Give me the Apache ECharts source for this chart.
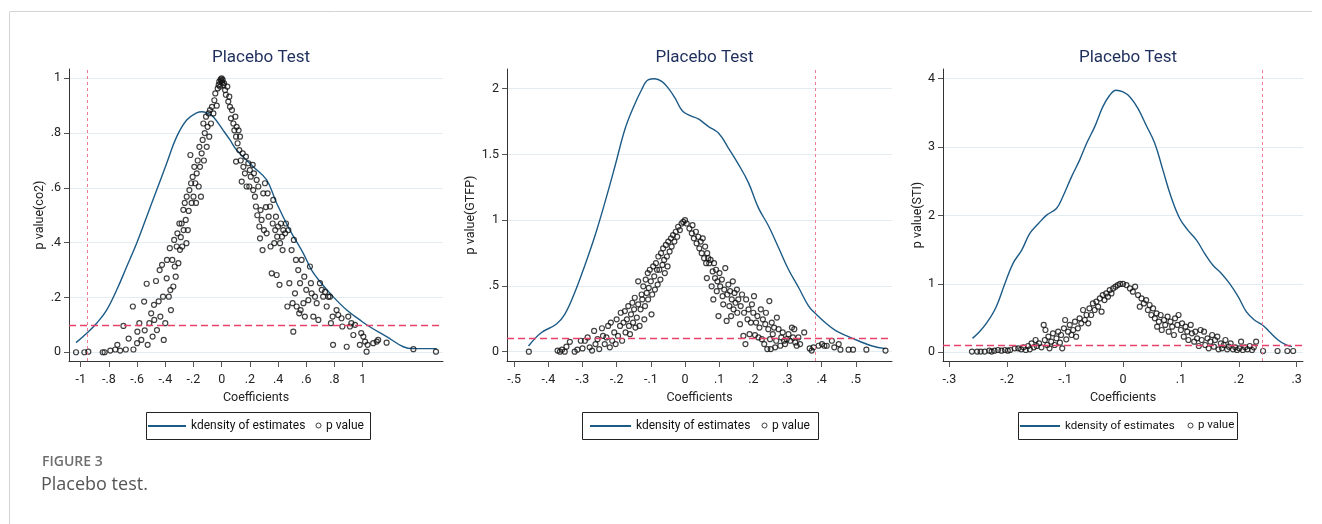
<!DOCTYPE html>
<html>
<head>
<meta charset="utf-8">
<script src="https://cdn.jsdelivr.net/npm/echarts@6/dist/echarts.min.js"></script>
<style>
html, body { margin: 0; padding: 0; background: #fff; }
#main { width: 1322px; height: 524px; }
</style>
</head>
<body>
<div id="main"></div>
<script>
// ---- data ----
var co2Density = [[-1.033,0.035],[-0.957,0.069],[-0.887,0.106],[-0.816,0.154],[-0.745,0.227],[-0.674,0.312],[-0.603,0.398],[-0.532,0.495],[-0.461,0.592],[-0.39,0.69],[-0.319,0.787],[-0.248,0.848],[-0.177,0.874],[-0.14,0.878],[-0.1,0.872],[-0.06,0.86],[0.011,0.81],[0.059,0.775],[0.106,0.738],[0.224,0.677],[0.319,0.629],[0.39,0.544],[0.484,0.446],[0.579,0.361],[0.638,0.3],[0.697,0.258],[0.79,0.203],[0.887,0.154],[0.98,0.118],[1.05,0.093],[1.17,0.057],[1.288,0.02],[1.36,0.013],[1.525,0.013]];
var co2Pvalues = [[-1.033,0],[-0.974,0],[-0.946,0.002],[-0.844,0],[-0.83,0],[-0.79,0.006],[-0.755,0.01],[-0.74,0.027],[-0.72,0.006],[-0.697,0.096],[-0.68,0.01],[-0.66,0.05],[-0.63,0.167],[-0.626,0.01],[-0.6,0.033],[-0.598,0.075],[-0.584,0.106],[-0.57,0.045],[-0.55,0.185],[-0.546,0.08],[-0.532,0.25],[-0.525,0.027],[-0.513,0.106],[-0.5,0.142],[-0.49,0.057],[-0.48,0.173],[-0.478,0.118],[-0.466,0.26],[-0.459,0.081],[-0.447,0.186],[-0.44,0.3],[-0.435,0.13],[-0.423,0.319],[-0.416,0.203],[-0.411,0.045],[-0.4,0.106],[-0.39,0.27],[-0.388,0.337],[-0.375,0.203],[-0.368,0.38],[-0.364,0.227],[-0.36,0.154],[-0.35,0.337],[-0.343,0.24],[-0.337,0.41],[-0.333,0.313],[-0.326,0.276],[-0.319,0.386],[-0.314,0.434],[-0.307,0.325],[-0.3,0.47],[-0.296,0.374],[-0.29,0.42],[-0.284,0.47],[-0.28,0.386],[-0.272,0.52],[-0.27,0.446],[-0.262,0.545],[-0.255,0.483],[-0.25,0.398],[-0.248,0.568],[-0.24,0.446],[-0.234,0.516],[-0.229,0.592],[-0.222,0.72],[-0.217,0.617],[-0.213,0.545],[-0.206,0.64],[-0.2,0.568],[-0.194,0.677],[-0.187,0.617],[-0.182,0.545],[-0.177,0.653],[-0.17,0.7],[-0.163,0.605],[-0.158,0.75],[-0.154,0.677],[-0.147,0.568],[-0.142,0.726],[-0.135,0.775],[-0.13,0.835],[-0.126,0.7],[-0.12,0.8],[-0.111,0.86],[-0.106,0.75],[-0.1,0.823],[-0.092,0.872],[-0.088,0.787],[-0.083,0.884],[-0.076,0.835],[-0.069,0.896],[-0.059,0.872],[-0.052,0.92],[-0.045,0.945],[-0.035,0.9],[-0.028,0.963],[-0.021,0.976],[-0.017,0.988],[-0.012,0.97],[-0.007,0.996],[-0.003,0.99],[0,1],[0.004,0.985],[0.007,0.994],[0.012,0.975],
  [0.017,0.982],[0.024,0.957],[0.03,0.94],[0.04,0.97],[0.047,0.915],[0.054,0.933],[0.059,0.896],[0.066,0.854],[0.073,0.884],[0.083,0.835],[0.09,0.81],[0.097,0.86],[0.102,0.787],[0.106,0.823],[0.113,0.763],[0.12,0.81],[0.125,0.738],[0.13,0.787],[0.102,0.696],[0.135,0.7],[0.142,0.623],[0.149,0.726],[0.154,0.677],[0.165,0.653],[0.172,0.714],[0.177,0.605],[0.189,0.69],[0.196,0.605],[0.2,0.665],[0.206,0.641],[0.22,0.684],[0.224,0.592],[0.229,0.653],[0.236,0.568],[0.243,0.532],[0.248,0.629],[0.253,0.5],[0.26,0.605],[0.267,0.459],[0.272,0.416],[0.276,0.519],[0.283,0.483],[0.29,0.373],[0.295,0.58],[0.3,0.446],[0.307,0.617],[0.314,0.53],[0.319,0.434],[0.326,0.58],[0.333,0.495],[0.343,0.532],[0.347,0.386],[0.355,0.288],[0.362,0.47],[0.366,0.556],[0.373,0.398],[0.38,0.446],[0.385,0.495],[0.39,0.282],[0.394,0.422],[0.4,0.459],[0.41,0.246],[0.414,0.398],[0.42,0.47],[0.428,0.422],[0.432,0.373],[0.437,0.446],[0.45,0.434],[0.456,0.47],[0.466,0.167],[0.473,0.446],[0.48,0.252],[0.496,0.373],[0.503,0.179],[0.508,0.075],[0.512,0.41],[0.52,0.215],[0.527,0.337],[0.532,0.167],[0.543,0.3],[0.55,0.142],[0.556,0.252],[0.56,0.154],[0.567,0.337],[0.58,0.179],[0.586,0.276],[0.59,0.13],[0.6,0.228],[0.615,0.19],[0.626,0.313],[0.633,0.252],[0.638,0.215],[0.65,0.13],[0.662,0.203],[0.674,0.179],[0.686,0.118],[0.697,0.252],[0.71,0.228],[0.72,0.203],[0.733,0.22],[0.745,0.167],[0.757,0.203],[0.768,0.203],[0.775,0.106],[0.787,0.13],[0.79,0.027],[0.815,0.154],[0.827,0.136],[0.85,0.124],[0.856,0.094],[0.887,0.02],[0.898,0.13],[0.91,0.094],[0.92,0.106],[0.934,0.063],[0.946,0.1],[0.98,0.027],[0.99,0.07],[1.005,0.057],[1.017,0.039],[1.028,0.002],[1.035,0.027],[1.075,0.033],[1.1,0.039],[1.11,0.045],[1.17,0.035],[1.36,0.011],[1.52,0.002]];

var gtfpDensity = [[-0.458,0.043],[-0.421,0.144],[-0.377,0.208],[-0.352,0.284],[-0.323,0.448],[-0.294,0.65],[-0.264,0.878],[-0.235,1.13],[-0.205,1.41],[-0.176,1.69],[-0.152,1.853],[-0.127,1.992],[-0.108,2.068],[-0.088,2.076],[-0.068,2.056],[-0.049,2.005],[-0.029,1.929],[-0.008,1.833],[0.015,1.795],[0.039,1.77],[0.068,1.714],[0.098,1.663],[0.127,1.549],[0.157,1.423],[0.186,1.284],[0.215,1.094],[0.245,0.954],[0.274,0.79],[0.303,0.625],[0.333,0.486],[0.362,0.347],[0.384,0.284],[0.411,0.22],[0.44,0.162],[0.47,0.124],[0.509,0.081],[0.548,0.043],[0.587,0.023]];
var gtfpPvalues = [[-0.457,0],[-0.373,0.008],[-0.366,0],[-0.36,0.015],[-0.352,0],[-0.347,0.038],[-0.337,0.075],[-0.323,0],[-0.315,0.015],[-0.305,0.083],[-0.3,0.025],[-0.293,0.083],[-0.285,0.108],[-0.279,0.033],[-0.272,0.008],[-0.266,0.158],[-0.262,0.058],[-0.256,0.095],[-0.251,0.02],[-0.243,0.178],[-0.24,0.12],[-0.235,0.058],[-0.23,0.108],[-0.225,0.196],[-0.22,0.033],[-0.217,0.221],[-0.213,0.083],[-0.207,0.146],[-0.203,0.058],[-0.2,0.246],[-0.196,0.12],[-0.19,0.196],[-0.188,0.296],[-0.184,0.083],[-0.18,0.221],[-0.176,0.309],[-0.174,0.146],[-0.17,0.246],[-0.166,0.347],[-0.164,0.196],[-0.161,0.133],[-0.158,0.284],[-0.154,0.372],[-0.152,0.221],[-0.149,0.322],[-0.147,0.41],[-0.145,0.183],[-0.141,0.259],[-0.137,0.36],[-0.137,0.535],[-0.133,0.196],[-0.13,0.322],[-0.127,0.435],[-0.125,0.397],[-0.122,0.497],[-0.119,0.246],[-0.117,0.347],[-0.115,0.548],[-0.112,0.447],[-0.109,0.598],[-0.108,0.397],[-0.106,0.485],[-0.103,0.623],[-0.1,0.535],[-0.098,0.284],[-0.096,0.435],[-0.093,0.648],[-0.09,0.573],[-0.088,0.472],[-0.085,0.673],[-0.082,0.623],[-0.08,0.51],[-0.078,0.724],[-0.075,0.623],[-0.072,0.548],[-0.07,0.749],[-0.066,0.66],[-0.064,0.786],[-0.061,0.698],[-0.059,0.598],[-0.056,0.812],[-0.053,0.724],[-0.051,0.648],[-0.049,0.837],[-0.045,0.761],[-0.041,0.862],[-0.039,0.799],[-0.035,0.887],[-0.031,0.837],[-0.027,0.912],[-0.023,0.874],[-0.02,0.95],[-0.015,0.925],[-0.01,0.975],[-0.005,0.987],[0,1],
  [0.005,0.975],[0.013,0.937],[0.02,0.9],[0.022,0.962],[0.026,0.862],[0.032,0.912],[0.034,0.824],[0.039,0.874],[0.042,0.786],[0.046,0.837],[0.049,0.749],[0.052,0.862],[0.056,0.711],[0.059,0.799],[0.062,0.673],[0.064,0.56],[0.065,0.749],[0.068,0.711],[0.071,0.673],[0.075,0.698],[0.078,0.497],[0.081,0.61],[0.083,0.397],[0.085,0.673],[0.088,0.56],[0.091,0.623],[0.093,0.46],[0.095,0.535],[0.098,0.271],[0.101,0.598],[0.103,0.497],[0.108,0.548],[0.11,0.422],[0.112,0.36],[0.115,0.472],[0.118,0.636],[0.122,0.234],[0.124,0.435],[0.127,0.51],[0.13,0.347],[0.132,0.46],[0.135,0.271],[0.137,0.397],[0.14,0.535],[0.142,0.322],[0.145,0.447],[0.148,0.372],[0.152,0.472],[0.153,0.296],[0.156,0.397],[0.161,0.209],[0.163,0.347],[0.167,0.435],[0.171,0.12],[0.173,0.296],[0.177,0.058],[0.179,0.397],[0.183,0.246],[0.186,0.322],[0.189,0.133],[0.193,0.221],[0.196,0.36],[0.2,0.296],[0.202,0.422],[0.205,0.126],[0.208,0.221],[0.212,0.271],[0.215,0.108],[0.218,0.183],[0.222,0.322],[0.225,0.095],[0.228,0.246],[0.232,0.058],[0.235,0.209],[0.237,0.296],[0.241,0.02],[0.244,0.171],[0.247,0.385],[0.249,0.095],[0.251,0.02],[0.254,0.221],[0.257,0.133],[0.261,0.183],[0.264,0.033],[0.267,0.083],[0.269,0.259],[0.274,0.171],[0.279,0.045],[0.282,0.108],[0.286,0.146],[0.29,0.083],[0.293,0.058],[0.298,0.095],[0.303,0.133],[0.308,0.083],[0.313,0.183],[0.316,0.108],[0.32,0.171],[0.323,0.07],[0.327,0.045],[0.332,0.108],[0.337,0.058],[0.349,0.146],[0.365,0.025],[0.371,0.008],[0.376,0.033],[0.391,0.045],[0.401,0.058],[0.408,0.045],[0.415,0.045],[0.43,0.083],[0.437,0.033],[0.45,0.058],[0.455,0.015],[0.479,0.015],[0.492,0.015],[0.531,0.015],[0.587,0.008]];

var stiDensity = [[-0.26,0.204],[-0.248,0.3],[-0.234,0.448],[-0.219,0.667],[-0.204,1.007],[-0.19,1.3],[-0.175,1.494],[-0.161,1.737],[-0.146,1.883],[-0.132,2.005],[-0.115,2.102],[-0.104,2.273],[-0.089,2.564],[-0.075,2.808],[-0.063,3.051],[-0.049,3.294],[-0.035,3.586],[-0.023,3.757],[-0.012,3.83],[0,3.805],[0.012,3.732],[0.026,3.562],[0.04,3.319],[0.055,3.051],[0.069,2.662],[0.083,2.273],[0.098,1.956],[0.112,1.786],[0.127,1.64],[0.141,1.445],[0.155,1.275],[0.17,1.153],[0.184,1.007],[0.199,0.813],[0.213,0.594],[0.227,0.472],[0.241,0.399],[0.253,0.3],[0.268,0.18],[0.282,0.107],[0.292,0.083]];
var stiPvalues = [[-0.261,0.01],[-0.252,0.01],[-0.246,0.01],[-0.239,0.01],[-0.231,0.024],[-0.227,0.01],[-0.222,0.024],[-0.216,0.034],[-0.21,0.024],[-0.204,0.034],[-0.199,0.024],[-0.195,0.034],[-0.187,0.058],[-0.181,0.058],[-0.176,0.044],[-0.172,0.073],[-0.168,0.034],[-0.164,0.092],[-0.161,0.044],[-0.158,0.131],[-0.154,0.073],[-0.151,0.18],[-0.149,0.092],[-0.145,0.131],[-0.141,0.073],[-0.137,0.4],[-0.135,0.18],[-0.134,0.326],[-0.131,0.107],[-0.129,0.229],[-0.127,0.058],[-0.124,0.156],[-0.121,0.277],[-0.118,0.107],[-0.115,0.204],[-0.112,0.302],[-0.109,0.141],[-0.107,0.253],[-0.105,0.058],[-0.102,0.35],[-0.1,0.472],[-0.098,0.19],[-0.095,0.302],[-0.092,0.4],[-0.089,0.253],[-0.086,0.326],[-0.083,0.448],[-0.081,0.229],[-0.078,0.35],[-0.075,0.496],[-0.072,0.423],[-0.069,0.618],[-0.066,0.472],[-0.063,0.545],[-0.06,0.423],[-0.058,0.642],[-0.055,0.545],[-0.052,0.715],[-0.049,0.618],[-0.046,0.74],[-0.043,0.667],[-0.04,0.788],[-0.037,0.594],[-0.035,0.837],[-0.032,0.764],[-0.029,0.861],[-0.026,0.813],[-0.023,0.91],[-0.02,0.861],[-0.017,0.934],[-0.013,0.959],[-0.009,0.983],[-0.005,1],[0,1],
  [0.006,0.983],[0.012,0.934],[0.017,0.886],[0.021,0.959],[0.026,0.837],[0.029,0.667],[0.032,0.788],[0.036,0.715],[0.04,0.764],[0.043,0.618],[0.046,0.691],[0.049,0.545],[0.052,0.642],[0.055,0.496],[0.058,0.569],[0.059,0.375],[0.062,0.448],[0.065,0.545],[0.067,0.326],[0.071,0.472],[0.073,0.4],[0.077,0.521],[0.079,0.302],[0.082,0.448],[0.085,0.375],[0.088,0.253],[0.09,0.496],[0.094,0.4],[0.096,0.545],[0.1,0.326],[0.102,0.423],[0.105,0.229],[0.108,0.375],[0.111,0.302],[0.113,0.18],[0.117,0.4],[0.119,0.277],[0.123,0.156],[0.125,0.302],[0.128,0.204],[0.131,0.092],[0.134,0.326],[0.136,0.18],[0.14,0.302],[0.142,0.107],[0.146,0.204],[0.148,0.058],[0.151,0.156],[0.154,0.253],[0.157,0.083],[0.159,0.18],[0.163,0.229],[0.165,0.044],[0.169,0.131],[0.171,0.058],[0.174,0.107],[0.177,0.18],[0.18,0.044],[0.183,0.083],[0.186,0.131],[0.19,0.044],[0.194,0.073],[0.197,0.034],[0.201,0.058],[0.204,0.156],[0.207,0.034],[0.211,0.073],[0.215,0.044],[0.219,0.092],[0.223,0.034],[0.226,0.073],[0.23,0.156],[0.242,0.019],[0.267,0.019],[0.284,0.019],[0.294,0.019]];

var co2XTicks = [-1, -0.8, -0.6, -0.4, -0.2, 0, 0.2, 0.4, 0.6, 0.8, 1];
var co2YTicks = [0, 0.2, 0.4, 0.6, 0.8, 1];
var gtfpXTicks = [-0.5, -0.4, -0.3, -0.2, -0.1, 0, 0.1, 0.2, 0.3, 0.4, 0.5];
var gtfpYTicks = [0, 0.5, 1, 1.5, 2];
var stiXTicks = [-0.3, -0.2, -0.1, 0, 0.1, 0.2, 0.3];
var stiYTicks = [0, 1, 2, 3, 4];

var pCutoff = 0.1;          // horizontal dashed line
var co2TrueCoef = -0.953;   // vertical dashed lines
var gtfpTrueCoef = 0.382;
var stiTrueCoef = 0.241;

// ---- layout ----
var font = "'Liberation Sans Narrow', 'Arial Narrow', Roboto, sans-serif";
var panels = [
  { yName: 'p value(co2)', density: co2Density, pvals: co2Pvalues, xTicks: co2XTicks, yTicks: co2YTicks,
    xMin: -1.083, xMax: 1.57, yMin: -0.032, yMax: 1.034, refX: co2TrueCoef,
    left: 69, width: 374, nameGap: 17, fs: 12.5, legFs: 12,
    box: [144, 224], lineLeg: 148, lineW: 38, dotLeg: 315.5 },
  { yName: 'p value(GTFP)', density: gtfpDensity, pvals: gtfpPvalues, xTicks: gtfpXTicks, yTicks: gtfpYTicks,
    xMin: -0.521, xMax: 0.606, yMin: -0.071, yMax: 2.15, refX: gtfpTrueCoef,
    left: 507, width: 385, nameGap: 25, fs: 12.5, legFs: 12,
    box: [580, 236], lineLeg: 590, lineW: 41, dotLeg: 761.5 },
  { yName: 'p value(STI)', density: stiDensity, pvals: stiPvalues, xTicks: stiXTicks, yTicks: stiYTicks,
    xMin: -0.311, xMax: 0.311, yMin: -0.127, yMax: 4.14, refX: stiTrueCoef,
    left: 943, width: 360, nameGap: 15, fs: 12.5, legFs: 11.5,
    box: [1016, 219], lineLeg: 1020, lineW: 40, dotLeg: 1187.5 }
];

function stataLabel(v) {
  var s = String(+(+v).toFixed(2));
  return s.replace(/^(-?)0\./, '$1.');
}

var grids = [], xAxes = [], yAxes = [], series = [], titles = [], legends = [], graphics = [];

panels.forEach(function (p, i) {
  grids.push({ left: p.left, top: 69, width: p.width, height: 292 });
  titles.push({
    text: 'Placebo Test', left: p.left + p.width / 2, top: 44, textAlign: 'center',
    textStyle: { fontFamily: font, fontSize: 17, fontWeight: 'normal', color: '#1e2f5c' }
  });
  xAxes.push({
    gridIndex: i, type: 'value', min: p.xMin, max: p.xMax,
    name: 'Coefficients', nameLocation: 'middle', nameGap: 25,
    nameTextStyle: { fontFamily: font, fontSize: p.fs, color: '#222' },
    axisLine: { show: true, onZero: false, lineStyle: { color: '#333', width: 1 } },
    axisTick: { show: true, length: 6, customValues: p.xTicks, lineStyle: { color: '#555' } },
    axisLabel: { customValues: p.xTicks, formatter: stataLabel, margin: 12,
      fontFamily: font, fontSize: p.fs, color: '#222' },
    splitLine: { show: false }
  });
  yAxes.push({
    gridIndex: i, type: 'value', min: p.yMin, max: p.yMax,
    name: p.yName, nameLocation: 'middle', nameGap: p.nameGap,
    nameTextStyle: { fontFamily: font, fontSize: p.fs, color: '#222' },
    axisLine: { show: true, onZero: false, lineStyle: { color: '#333', width: 1 } },
    axisTick: { show: true, length: 5, customValues: p.yTicks, lineStyle: { color: '#555' } },
    axisLabel: { customValues: p.yTicks, formatter: stataLabel, margin: 8,
      fontFamily: font, fontSize: p.fs, color: '#222' },
    splitLine: { show: true, lineStyle: { color: '#e2ecf1', width: 1.2 } }
  });
  series.push({
    name: 'kdensity of estimates', type: 'line', xAxisIndex: i, yAxisIndex: i,
    data: p.density, smooth: 0.4, symbol: 'none', z: 3,
    lineStyle: { color: '#1d5b87', width: 1.4 },
    markLine: {
      silent: true, symbol: 'none', label: { show: false },
      data: [
        { yAxis: pCutoff, lineStyle: { color: '#e8416a', type: [7, 4], width: 1.3 } },
        { xAxis: p.refX, lineStyle: { color: '#f07a94', type: [3, 3], width: 1 } }
      ]
    }
  });
  series.push({
    name: 'p value', type: 'scatter', xAxisIndex: i, yAxisIndex: i,
    data: p.pvals, symbol: 'circle', symbolSize: 5, z: 4,
    itemStyle: { color: 'transparent', borderColor: '#111', borderWidth: 1.2 }
  });
  var legText = { fontFamily: font, fontSize: p.legFs, color: '#111' };
  legends.push({
    left: p.lineLeg, top: 420, padding: 0, itemWidth: p.lineW, itemHeight: 2,
    data: [{ name: 'kdensity of estimates', icon: 'rect', itemStyle: { color: '#1d5b87' } }],
    textStyle: legText, selectedMode: false
  });
  legends.push({
    left: p.dotLeg, top: 419.5, padding: 0, itemWidth: 5, itemHeight: 5,
    data: [{ name: 'p value', icon: 'circle',
      itemStyle: { color: 'transparent', borderColor: '#111', borderWidth: 1 } }],
    textStyle: legText, selectedMode: false
  });
  graphics.push({
    type: 'rect', left: p.box[0], top: 410, silent: true,
    shape: { width: p.box[1], height: 27 },
    style: { fill: 'none', stroke: '#222', lineWidth: 1 }
  });
});

// page frame and caption
graphics.push({ type: 'line', silent: true, shape: { x1: 10, y1: 11.5, x2: 1312, y2: 11.5 },
  style: { stroke: '#d4d4d4', lineWidth: 1 } });
graphics.push({ type: 'line', silent: true, shape: { x1: 9.5, y1: 11.5, x2: 9.5, y2: 524 },
  style: { stroke: '#d4d4d4', lineWidth: 1 } });
graphics.push({ type: 'text', left: 42, top: 455, silent: true,
  style: { text: 'FIGURE 3', font: "600 14px 'Open Sans', sans-serif", fill: '#6e6e6e' } });
graphics.push({ type: 'text', left: 41, top: 476, silent: true,
  style: { text: 'Placebo test.', font: "18px 'Open Sans', sans-serif", fill: '#555' } });

var myChart = echarts.init(document.getElementById('main'), null, { renderer: 'canvas' });
myChart.setOption({
  backgroundColor: '#fff',
  animation: false,
  title: titles,
  grid: grids,
  xAxis: xAxes,
  yAxis: yAxes,
  legend: legends,
  series: series,
  graphic: graphics
});
</script>
</body>
</html>
